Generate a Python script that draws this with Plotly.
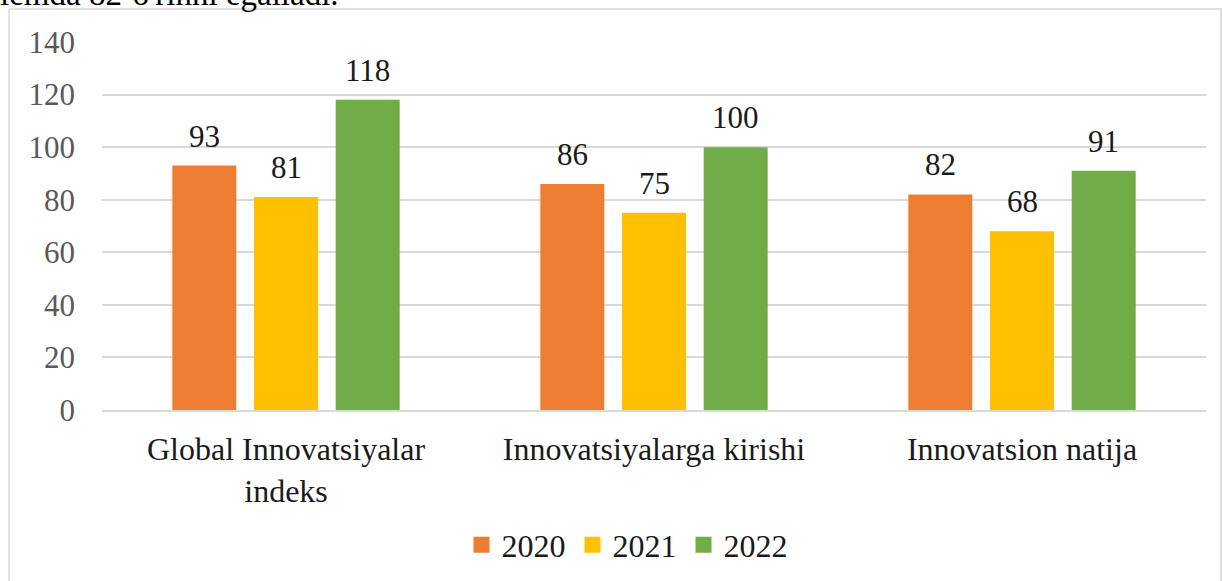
import plotly.graph_objects as go

categories = ["Global Innovatsiyalar<br>indeks", "Innovatsiyalarga kirishi", "Innovatsion natija"]
years = ["2020", "2021", "2022"]
values_2020 = [93, 86, 82]
values_2021 = [81, 75, 68]
values_2022 = [118, 100, 91]
colors = ["#ED7D31", "#FFC000", "#70AD47"]
y_ticks = [0, 20, 40, 60, 80, 100, 120, 140]

FONT = "Liberation Serif"

L, R, T, B = 102, 17, 42, 171
W, H = 1223, 581
pw, ph = W - L - R, H - T - B
BARGAP, GROUPGAP = 0.334, 0.217


def px(x):
    return (x - L) / pw


def py(y):
    return (H - B - y) / ph


fig = go.Figure()
series = [values_2020, values_2021, values_2022]
slot_px = pw / len(categories) * (1 - BARGAP) / len(series)
for i, (name, vals, col) in enumerate(zip(years, series, colors)):
    fig.add_trace(go.Bar(
        x=categories, y=vals, name=name, marker=dict(color=col, line=dict(width=0)),
        showlegend=False, legendgroup=name,
    ))
    # legend entry with a larger square swatch
    fig.add_trace(go.Scatter(
        x=[None], y=[None], mode="markers", name=name, legendgroup=name,
        marker=dict(symbol="square", size=17, color=col, line=dict(width=0)),
    ))
    shift = (i - (len(series) - 1) / 2) * slot_px
    for cat, v in zip(categories, vals):
        fig.add_annotation(x=cat, y=v, text=str(v), showarrow=False, xshift=shift,
                           yanchor="bottom", yshift=10,
                           font=dict(family=FONT, size=31, color="#1a1a1a"))

fig.update_layout(
    width=W, height=H,
    margin=dict(l=L, r=R, t=T, b=B, autoexpand=False),
    paper_bgcolor="white", plot_bgcolor="white",
    barmode="group", bargap=BARGAP, bargroupgap=GROUPGAP,
    font=dict(family=FONT),
    showlegend=True,
    legend=dict(orientation="h", x=px(628), xanchor="center", y=py(545), yanchor="middle",
                font=dict(family=FONT, size=32, color="#1a1a1a"),
                itemsizing="trace", traceorder="normal", itemwidth=30,
                entrywidth=66, entrywidthmode="pixels"),
    xaxis=dict(showgrid=False, showline=True, linecolor="#d9d9d9", linewidth=1.5,
               ticks="", tickfont=dict(family=FONT, size=32, color="#1a1a1a"),
               ticklabelstandoff=10),
    yaxis=dict(range=[0, 140], tickvals=y_ticks, showgrid=True, gridcolor="#d9d9d9",
               gridwidth=1.5, zeroline=False, showline=False, ticks="",
               tickfont=dict(family=FONT, size=31, color="#595959"),
               ticklabelstandoff=26),
)

fig.add_shape(type="rect", xref="paper", yref="paper",
              x0=px(9), x1=px(1221), y0=py(600), y1=py(9),
              line=dict(color="#d9d9d9", width=1.5), fillcolor="rgba(0,0,0,0)", layer="below")

fig.add_annotation(text="lemda 82-o'rinni egalladi.", xref="paper", yref="paper",
                   x=px(-2), y=py(14), xanchor="left", yanchor="bottom", showarrow=False,
                   font=dict(family=FONT, size=33, color="black"))

fig.write_html("out.html", config={"displayModeBar": False},
               post_script="document.body.style.margin='0';document.body.style.overflow='hidden';")
